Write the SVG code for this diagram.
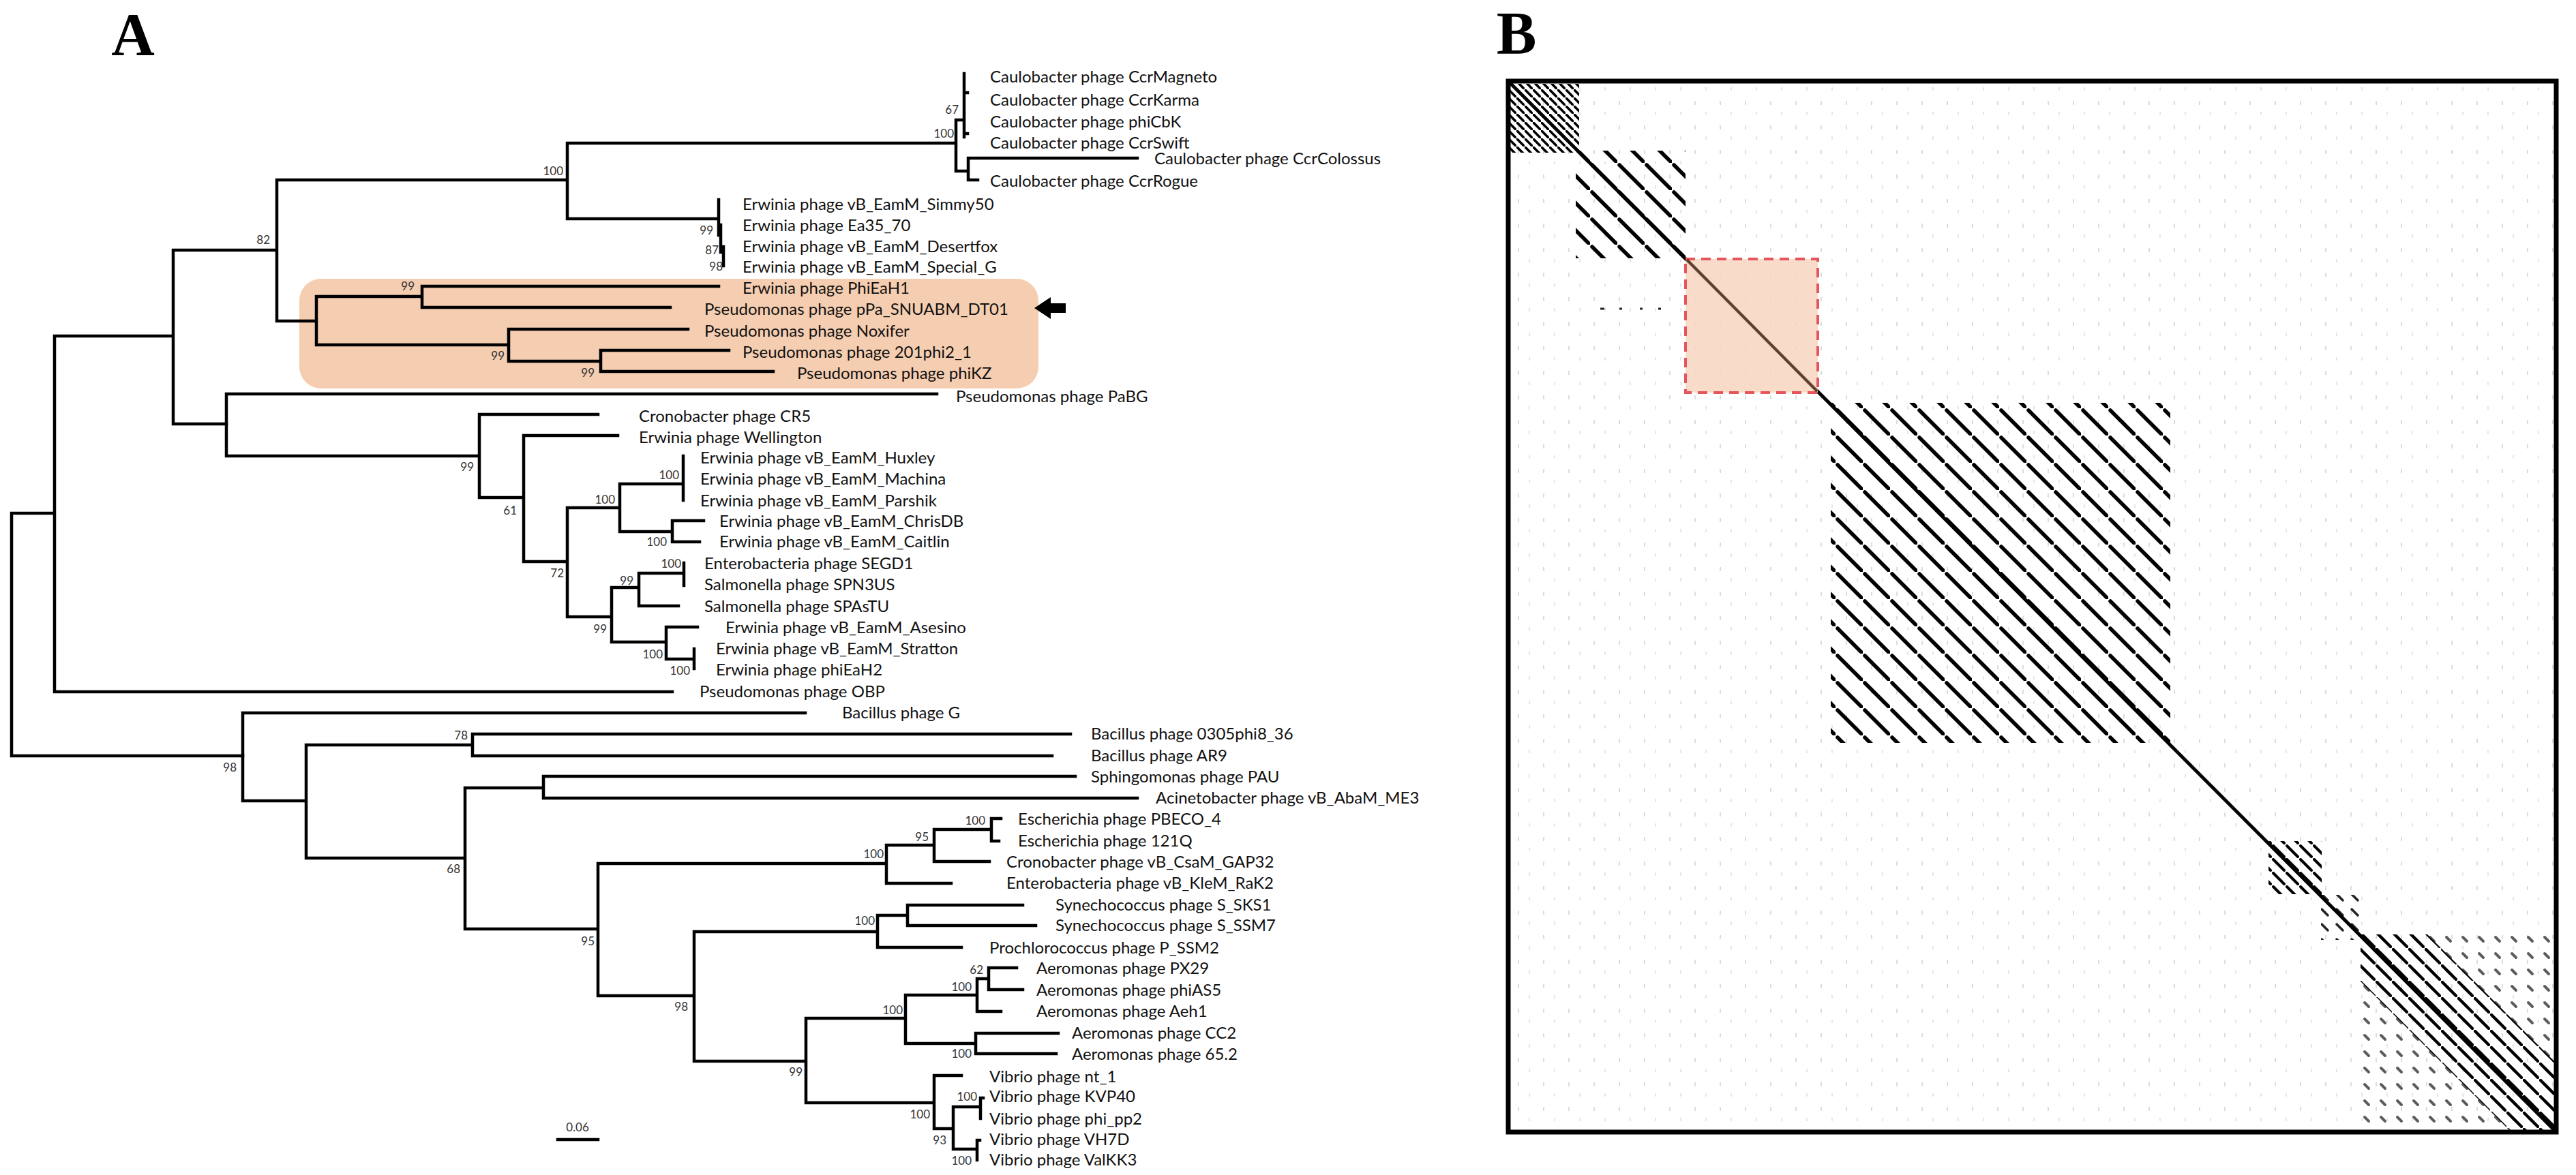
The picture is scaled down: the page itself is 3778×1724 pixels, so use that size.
<svg xmlns="http://www.w3.org/2000/svg" width="3778" height="1724" viewBox="0 0 3778 1724">
<style>
.br{fill:none;stroke:#000;stroke-width:4.5;stroke-linecap:square}
.lb{font-family:Lato,"Liberation Sans",sans-serif;font-size:24px;fill:#111}
.bs{font-family:Lato,"Liberation Sans",sans-serif;font-size:17px;fill:#333;text-anchor:end}
.pl{font-family:"Liberation Serif",serif;font-size:88px;font-weight:bold;text-anchor:middle}
</style>
<defs>
<pattern id="h40" x="2212" y="119" width="40" height="40" patternUnits="userSpaceOnUse"><line x1="3" y1="3" x2="38" y2="38" stroke="#000" stroke-width="5.5" stroke-linecap="round"/></pattern>
<pattern id="h12" x="2212" y="119" width="12" height="12" patternUnits="userSpaceOnUse"><line x1="1" y1="1" x2="11" y2="11" stroke="#000" stroke-width="3.6" stroke-linecap="round"/></pattern>
<pattern id="h20" x="2212" y="119" width="20" height="20" patternUnits="userSpaceOnUse"><line x1="2" y1="2" x2="18" y2="18" stroke="#000" stroke-width="4" stroke-linecap="round"/></pattern>
<pattern id="h22s" x="2212" y="119" width="22" height="22" patternUnits="userSpaceOnUse"><line x1="5" y1="5" x2="14" y2="14" stroke="#222" stroke-width="3.5" stroke-linecap="round"/></pattern>
<pattern id="h24" x="2212" y="119" width="24" height="24" patternUnits="userSpaceOnUse"><line x1="2" y1="2" x2="22" y2="22" stroke="#000" stroke-width="4.5" stroke-linecap="round"/></pattern>
<pattern id="d24" x="2212" y="119" width="24" height="24" patternUnits="userSpaceOnUse"><line x1="8" y1="8" x2="14" y2="14" stroke="#333" stroke-width="4" stroke-linecap="round" stroke-opacity="0.8"/></pattern>
<pattern id="speck" width="37" height="36" patternUnits="userSpaceOnUse"><rect x="6" y="4" width="2" height="6" fill="#dcdcdc"/><rect x="22" y="20" width="2" height="5" fill="#e6e6e6"/></pattern>
<clipPath id="c1"><rect x="2212" y="123" width="104" height="101"/></clipPath>
<clipPath id="c2"><rect x="2311" y="221" width="161" height="158"/></clipPath>
<clipPath id="c3"><rect x="2685" y="591" width="498" height="499"/></clipPath>
<clipPath id="c5"><rect x="3327" y="1234" width="78" height="78"/></clipPath>
<clipPath id="c6"><rect x="3404" y="1313" width="64" height="66"/></clipPath>
<clipPath id="c7"><rect x="3462" y="1371" width="287" height="287"/></clipPath>
<clipPath id="c7b"><polygon points="3462,1371 3560,1371 3749,1560 3749,1658 3680,1658 3462,1440"/></clipPath>
</defs>
<rect x="0" y="0" width="3778" height="1724" fill="#fff"/>

<g id="panelA">
<text class="pl" x="195" y="80">A</text>
<rect id="highlight" x="439" y="409" width="1084" height="161" rx="32" fill="#f5cdb0"/>

<g id="connectors">
<path class="br" d="M17,753 V1109 M17,753 H80 M17,1109 H356 M80,493 V1015 M80,493 H254 M80,1015 H986 M254,367 V622 M254,367 H406 M254,622 H332 M406,264 V471 M406,264 H832 M406,471 H464 M832,210 V321 M832,210 H1402 M832,321 H1054 M1402,176 V251 M1402,176 H1414 M1414,108 V201 M1414,136 H1419 M1414,196 H1419 M1402,251 H1420 M1420,232 V264 M1420,232 H1668 M1420,264 H1434 M1054,293 V345 M1057,330 V370 M1061,362 V390 M464,435 V506 M464,435 H619 M464,506 H746 M619,420 V451 M619,420 H1054 M619,451 H983 M746,483 V530 M746,483 H1009 M746,530 H881 M881,514 V545 M881,514 H1069 M881,545 H1134"/>
<path class="br" d="M332,578 V669 M332,578 H1374 M332,669 H703 M703,608 V730 M703,608 H877 M703,730 H768 M768,639 V824 M768,639 H906 M768,824 H832 M832,745 V905 M832,745 H909 M832,905 H897 M909,710 V780 M909,710 H1002 M909,780 H986 M1002,669 V734 M986,764 V795 M986,764 H1032 M986,795 H1026 M897,862 V942 M897,862 H937 M897,942 H977 M937,841 V889 M937,841 H1003 M937,889 H995 M1003,826 V859 M977,920 V967 M977,920 H1023 M977,967 H1018 M1018,952 V981"/>
<path class="br" d="M356,1046 V1175 M356,1046 H1181 M356,1175 H449 M449,1093 V1259 M449,1093 H693 M449,1259 H682 M693,1077 V1109 M693,1077 H1570 M693,1109 H1543 M682,1156 V1363 M682,1156 H797 M682,1363 H877 M797,1139 V1171 M797,1139 H1577 M797,1171 H1668 M877,1267 V1461 M877,1267 H1300 M877,1461 H1018 M1300,1240 V1296 M1300,1240 H1370 M1300,1296 H1395 M1370,1217 V1264 M1370,1217 H1454 M1370,1264 H1451 M1454,1201 V1234 M1454,1201 H1468 M1454,1234 H1465 M1018,1367 V1557 M1018,1367 H1287 M1018,1557 H1182 M1287,1343 V1390 M1287,1343 H1331 M1287,1390 H1410 M1331,1328 V1358 M1331,1328 H1500 M1331,1358 H1519 M1182,1494 V1618 M1182,1494 H1328 M1182,1618 H1370 M1328,1460 V1531 M1328,1460 H1433 M1328,1531 H1431 M1433,1436 V1484 M1433,1436 H1450 M1433,1484 H1468 M1450,1420 V1452 M1450,1420 H1491 M1450,1452 H1500 M1431,1516 V1546 M1431,1516 H1552 M1431,1546 H1549 M1370,1578 V1656 M1370,1578 H1410 M1370,1656 H1398 M1398,1624 V1686 M1398,1624 H1438 M1398,1686 H1433 M1438,1611 V1641 M1438,1611 H1442 M1433,1673 V1702 M1433,1673 H1437"/>
<path id="scalebar" class="br" d="M818,1672 H877"/>
<polygon id="arrow" points="1517,452 1541,436 1541,445 1563,445 1563,459 1541,459 1541,468" fill="#000"/>
</g>

<g id="support">
<text class="bs" x="826" y="257">100</text>
<text class="bs" x="396" y="358">82</text>
<text class="bs" x="608" y="426">99</text>
<text class="bs" x="740" y="528">99</text>
<text class="bs" x="872" y="553">99</text>
<text class="bs" x="1399" y="202">100</text>
<text class="bs" x="1406" y="167">67</text>
<text class="bs" x="1046" y="344">99</text>
<text class="bs" x="1054" y="373">87</text>
<text class="bs" x="1060" y="397">98</text>
<text class="bs" x="695" y="691">99</text>
<text class="bs" x="758" y="755">61</text>
<text class="bs" x="827" y="847">72</text>
<text class="bs" x="902" y="739">100</text>
<text class="bs" x="996" y="703">100</text>
<text class="bs" x="978" y="801">100</text>
<text class="bs" x="890" y="929">99</text>
<text class="bs" x="929" y="858">99</text>
<text class="bs" x="999" y="833">100</text>
<text class="bs" x="972" y="966">100</text>
<text class="bs" x="1012" y="990">100</text>
<text class="bs" x="347" y="1132">98</text>
<text class="bs" x="686" y="1085">78</text>
<text class="bs" x="675" y="1281">68</text>
<text class="bs" x="872" y="1387">95</text>
<text class="bs" x="1296" y="1259">100</text>
<text class="bs" x="1362" y="1234">95</text>
<text class="bs" x="1445" y="1210">100</text>
<text class="bs" x="1009" y="1483">98</text>
<text class="bs" x="1283" y="1357">100</text>
<text class="bs" x="1177" y="1579">99</text>
<text class="bs" x="1324" y="1488">100</text>
<text class="bs" x="1425" y="1454">100</text>
<text class="bs" x="1442" y="1429">62</text>
<text class="bs" x="1425" y="1552">100</text>
<text class="bs" x="1364" y="1641">100</text>
<text class="bs" x="1388" y="1679">93</text>
<text class="bs" x="1433" y="1615">100</text>
<text class="bs" x="1425" y="1709">100</text>
<text class="bs" x="847" y="1660" style="text-anchor:middle">0.06</text>
</g>

<g id="t01"><text class="lb" x="1452" y="121">Caulobacter phage CcrMagneto</text></g>
<g id="t02"><text class="lb" x="1452" y="155">Caulobacter phage CcrKarma</text></g>
<g id="t03"><text class="lb" x="1452" y="187">Caulobacter phage phiCbK</text></g>
<g id="t04"><text class="lb" x="1452" y="218">Caulobacter phage CcrSwift</text></g>
<g id="t05"><text class="lb" x="1693" y="241">Caulobacter phage CcrColossus</text></g>
<g id="t06"><text class="lb" x="1452" y="274">Caulobacter phage CcrRogue</text></g>
<g id="t07"><text class="lb" x="1089" y="308">Erwinia phage vB_EamM_Simmy50</text></g>
<g id="t08"><text class="lb" x="1089" y="339">Erwinia phage Ea35_70</text></g>
<g id="t09"><text class="lb" x="1089" y="370">Erwinia phage vB_EamM_Desertfox</text></g>
<g id="t10"><text class="lb" x="1089" y="400">Erwinia phage vB_EamM_Special_G</text></g>
<g id="t11"><text class="lb" x="1089" y="431">Erwinia phage PhiEaH1</text></g>
<g id="t12"><text class="lb" x="1033" y="462">Pseudomonas phage pPa_SNUABM_DT01</text></g>
<g id="t13"><text class="lb" x="1033" y="494">Pseudomonas phage Noxifer</text></g>
<g id="t14"><text class="lb" x="1089" y="525">Pseudomonas phage 201phi2_1</text></g>
<g id="t15"><text class="lb" x="1169" y="556">Pseudomonas phage phiKZ</text></g>
<g id="t16"><text class="lb" x="1402" y="590">Pseudomonas phage PaBG</text></g>
<g id="t17"><text class="lb" x="937" y="619">Cronobacter phage CR5</text></g>
<g id="t18"><text class="lb" x="937" y="650">Erwinia phage Wellington</text></g>
<g id="t19"><text class="lb" x="1027" y="680">Erwinia phage vB_EamM_Huxley</text></g>
<g id="t20"><text class="lb" x="1027" y="711">Erwinia phage vB_EamM_Machina</text></g>
<g id="t21"><text class="lb" x="1027" y="743">Erwinia phage vB_EamM_Parshik</text></g>
<g id="t22"><text class="lb" x="1055" y="773">Erwinia phage vB_EamM_ChrisDB</text></g>
<g id="t23"><text class="lb" x="1055" y="803">Erwinia phage vB_EamM_Caitlin</text></g>
<g id="t24"><text class="lb" x="1033" y="835">Enterobacteria phage SEGD1</text></g>
<g id="t25"><text class="lb" x="1033" y="866">Salmonella phage SPN3US</text></g>
<g id="t26"><text class="lb" x="1033" y="898">Salmonella phage SPAsTU</text></g>
<g id="t27"><text class="lb" x="1064" y="929">Erwinia phage vB_EamM_Asesino</text></g>
<g id="t28"><text class="lb" x="1050" y="960">Erwinia phage vB_EamM_Stratton</text></g>
<g id="t29"><text class="lb" x="1050" y="991">Erwinia phage phiEaH2</text></g>
<g id="t30"><text class="lb" x="1026" y="1023">Pseudomonas phage OBP</text></g>
<g id="t31"><text class="lb" x="1235" y="1054">Bacillus phage G</text></g>
<g id="t32"><text class="lb" x="1600" y="1085">Bacillus phage 0305phi8_36</text></g>
<g id="t33"><text class="lb" x="1600" y="1117">Bacillus phage AR9</text></g>
<g id="t34"><text class="lb" x="1600" y="1148">Sphingomonas phage PAU</text></g>
<g id="t35"><text class="lb" x="1695" y="1179">Acinetobacter phage vB_AbaM_ME3</text></g>
<g id="t36"><text class="lb" x="1493" y="1210">Escherichia phage PBECO_4</text></g>
<g id="t37"><text class="lb" x="1493" y="1242">Escherichia phage 121Q</text></g>
<g id="t38"><text class="lb" x="1476" y="1273">Cronobacter phage vB_CsaM_GAP32</text></g>
<g id="t39"><text class="lb" x="1476" y="1304">Enterobacteria phage vB_KleM_RaK2</text></g>
<g id="t40"><text class="lb" x="1548" y="1336">Synechococcus phage S_SKS1</text></g>
<g id="t41"><text class="lb" x="1548" y="1366">Synechococcus phage S_SSM7</text></g>
<g id="t42"><text class="lb" x="1451" y="1399">Prochlorococcus phage P_SSM2</text></g>
<g id="t43"><text class="lb" x="1520" y="1429">Aeromonas phage PX29</text></g>
<g id="t44"><text class="lb" x="1520" y="1461">Aeromonas phage phiAS5</text></g>
<g id="t45"><text class="lb" x="1520" y="1492">Aeromonas phage Aeh1</text></g>
<g id="t46"><text class="lb" x="1572" y="1524">Aeromonas phage CC2</text></g>
<g id="t47"><text class="lb" x="1572" y="1555">Aeromonas phage 65.2</text></g>
<g id="t48"><text class="lb" x="1451" y="1588">Vibrio phage nt_1</text></g>
<g id="t49"><text class="lb" x="1451" y="1617">Vibrio phage KVP40</text></g>
<g id="t50"><text class="lb" x="1451" y="1650">Vibrio phage phi_pp2</text></g>
<g id="t51"><text class="lb" x="1451" y="1680">Vibrio phage VH7D</text></g>
<g id="t52"><text class="lb" x="1451" y="1710">Vibrio phage ValKK3</text></g>
</g>

<g id="panelB">
<text class="pl" x="2224" y="78">B</text>
<rect x="2212" y="119" width="1537" height="1542" fill="url(#speck)"/>
<rect x="2212" y="123" width="104" height="101" fill="url(#h12)" clip-path="url(#c1)"/>
<rect x="2311" y="221" width="161" height="158" fill="url(#h40)" clip-path="url(#c2)"/>
<rect x="2685" y="591" width="498" height="499" fill="url(#h40)" clip-path="url(#c3)"/>
<rect x="3327" y="1234" width="78" height="78" fill="url(#h20)" clip-path="url(#c5)"/>
<rect x="3404" y="1313" width="64" height="66" fill="url(#h22s)" clip-path="url(#c6)"/>
<rect x="3462" y="1371" width="287" height="287" fill="url(#d24)" clip-path="url(#c7)"/>
<rect x="3462" y="1371" width="287" height="287" fill="url(#h24)" clip-path="url(#c7b)"/>
<path d="M2347,453 h6 M2375,453 h4 M2405,453 h4 M2432,453 h4" stroke="#222" stroke-width="3"/>
<line x1="2212" y1="119" x2="3749" y2="1661" stroke="#000" stroke-width="5"/>
<rect id="regionBox" x="2472" y="380" width="194" height="196" fill="#f7d6bf" fill-opacity="0.85" stroke="#e8545c" stroke-width="4" stroke-dasharray="14 9"/>
<line x1="2474" y1="381" x2="2665" y2="574" stroke="#5e3e2e" stroke-width="4"/>
<rect x="2212" y="119" width="1537" height="1542" fill="none" stroke="#000" stroke-width="7"/>
</g>
</svg>
